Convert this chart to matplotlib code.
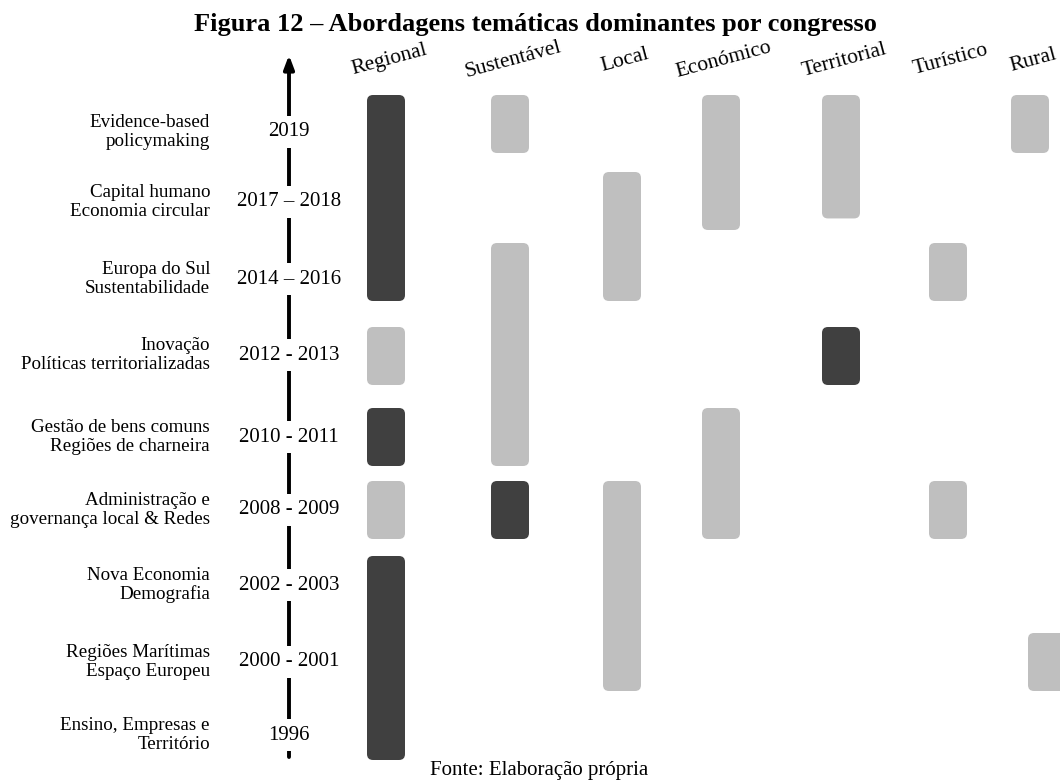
import matplotlib.pyplot as plt
from matplotlib.patches import FancyBboxPatch
import numpy as np

plt.rcParams['font.family'] = ['Liberation Serif', 'DejaVu Serif']

# periods (top to bottom) and their themes
periods = ["2019", "2017 \u2013 2018", "2014 \u2013 2016", "2012 - 2013", "2010 - 2011",
           "2008 - 2009", "2002 - 2003", "2000 - 2001", "1996"]
topics = ["Evidence-based\npolicymaking", "Capital humano\nEconomia circular",
          "Europa do Sul\nSustentabilidade", "Inovação\nPolíticas territorializadas",
          "Gestão de bens comuns\nRegiões de charneira", "Administração e\ngovernança local & Redes",
          "Nova Economia\nDemografia", "Regiões Marítimas\nEspaço Europeu",
          "Ensino, Empresas e\nTerritório"]

themes = ["Regional", "Sustentável", "Local", "Económico", "Territorial", "Turístico", "Rural"]

# (first period, last period, dominant) by row index
regional = [(0, 2, True), (3, 3, False), (4, 4, True), (5, 5, False), (6, 8, True)]
sustentavel = [(0, 0, False), (2, 4, False), (5, 5, True)]
local = [(1, 2, False), (5, 7, False)]
economico = [(0, 1, False), (4, 5, False)]
territorial = [(0, 0.85, False), (3, 3, True)]
turistico = [(2, 2, False), (5, 5, False)]
rural = [(0, 0, False), (7, 7, False)]
spans = [regional, sustentavel, local, economico, territorial, turistico, rural]

# layout (pixels)
row_y = [124, 201, 272, 356, 437, 510, 585, 662, 731]
text_y = [132, 202, 279, 355, 437, 510, 585, 662, 735]
col_x = [386, 510, 622, 721, 841, 948, 1030]
half_h = 29
bar_w = 38
dark, light = "#404040", "#bfbfbf"

fig = plt.figure(figsize=(10.6, 7.8), dpi=100)
ax = fig.add_axes([0, 0, 1, 1])
ax.set_xlim(0, 1060)
ax.set_ylim(780, 0)
ax.axis("off")

for j, theme in enumerate(themes):
    ax.text(col_x[j] + 3, 60, theme, rotation=15, ha="center", va="center", fontsize=15.5)
    for first, last, dom in spans[j]:
        y0 = np.interp(first, range(len(row_y)), row_y) - half_h
        y1 = np.interp(last, range(len(row_y)), row_y) + half_h
        x0 = col_x[j] - bar_w / 2
        if theme == "Rural" and first == 7:
            x0 += 17
        box = FancyBboxPatch((x0, y0), bar_w, y1 - y0,
                             boxstyle="round,pad=0,rounding_size=6",
                             fc=dark if dom else light, ec="none")
        ax.add_patch(box)

# timeline
ax.annotate("", xy=(289, 55), xytext=(289, 757),
            arrowprops=dict(arrowstyle="-|>,head_length=0.8,head_width=0.3",
                            lw=2.8, color="black", shrinkA=0, shrinkB=0))

for i, p in enumerate(periods):
    ax.text(289, text_y[i], p, ha="center", va="center", fontsize=15, zorder=5,
            bbox=dict(boxstyle="square,pad=0.3", fc="white", ec="none"))
    ax.text(210, text_y[i], topics[i], ha="right", va="center", ma="right",
            fontsize=13.7, linespacing=1.15)

ax.text(535, 24, "Figura 12 \u2013 Abordagens temáticas dominantes por congresso",
        ha="center", va="center", fontsize=19, fontweight="bold")
ax.text(539, 770, "Fonte: Elaboração própria", ha="center", va="center", fontsize=15)

fig.savefig("out.png", dpi=100)
